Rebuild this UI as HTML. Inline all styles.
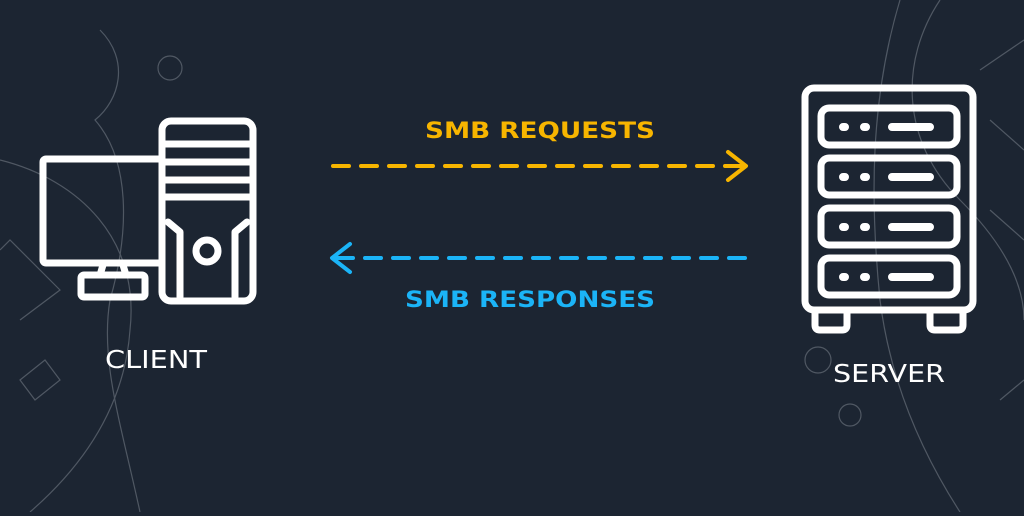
<!DOCTYPE html>
<html><head><style>
body{margin:0;width:1024px;height:512px;background:#1c2532;overflow:hidden;font-family:"DejaVu Sans",sans-serif}
</style></head><body>
<svg width="1024" height="512" viewBox="0 0 1024 512" xmlns="http://www.w3.org/2000/svg">
<rect width="1024" height="512" fill="#1c2532"/>
<g fill="none" stroke="#5d6570" stroke-width="1.2" opacity="0.8">
<path d="M0 160 C80 180 140 240 130 330 C125 400 90 460 30 512"/>
<path d="M100 30 C130 60 120 100 95 120 C130 160 130 230 110 300 C100 360 120 420 140 512"/>
<circle cx="170" cy="68" r="12"/><circle cx="175" cy="178" r="10"/>
<path d="M0 250 L10 240 L60 290 L20 320"/>
<path d="M20 380 L45 360 L60 380 L35 400 Z"/>
<path d="M940 0 C900 60 900 140 960 200 C1000 240 1024 280 1024 320"/>
<path d="M900 0 C870 100 870 200 880 300 C890 380 920 450 960 512"/>
<path d="M990 120 L1024 150 M990 210 L1024 240 M1000 400 L1024 380"/>
<circle cx="818" cy="360" r="13"/><circle cx="850" cy="415" r="11"/>
<path d="M980 70 L1024 40"/>
</g>
<g fill="none" stroke="#fff" stroke-width="7" stroke-linejoin="round" stroke-linecap="round">
<rect x="43" y="159" width="120" height="104" rx="3"/>
<rect x="81" y="275" width="64" height="22" rx="3"/>
<path d="M103 265 L100 275 M123 265 L126 275"/>
<rect x="162" y="121" width="91" height="180" rx="9" fill="#1c2532"/>
<path d="M165 144 H250 M165 162 H250 M165 180 H250 M165 197 H250"/>
<path d="M168 222 L180 232 V297 M247 222 L235 232 V297"/>
<circle cx="207" cy="251" r="11"/>
<rect x="805" y="88" width="168" height="222" rx="9"/>
<path d="M815 310 V325 Q815 330 820 330 H842 Q847 330 847 325 V310 M930 310 V325 Q930 330 935 330 H958 Q963 330 963 325 V310"/>
<rect x="821" y="108" width="136" height="37" rx="8"/>
<rect x="821" y="158" width="136" height="37" rx="8"/>
<rect x="821" y="208" width="136" height="37" rx="8"/>
<rect x="821" y="258" width="136" height="37" rx="8"/>
<g stroke-width="8">
<path d="M843 127h2M864 127h2M892 127h38"/>
<path d="M843 177h2M864 177h2M892 177h38"/>
<path d="M843 227h2M864 227h2M892 227h38"/>
<path d="M843 277h2M864 277h2M892 277h38"/>
</g>
</g>
<g fill="none" stroke-width="4" stroke-linecap="round" stroke-linejoin="round">
<path d="M333 166 H745" stroke="#f7b500" stroke-dasharray="16 12"/>
<path d="M728 152 L746 166 L728 180" stroke="#f7b500"/>
<path d="M745 258 H333" stroke="#1bb4f7" stroke-dasharray="16 12"/>
<path d="M350 244 L332 258 L350 272" stroke="#1bb4f7"/>
</g>
<text x="425" y="138" fill="#f7b500" font-size="22" font-weight="bold" textLength="230" lengthAdjust="spacingAndGlyphs">SMB REQUESTS</text>
<text x="405" y="307" fill="#1bb4f7" font-size="22" font-weight="bold" textLength="250" lengthAdjust="spacingAndGlyphs">SMB RESPONSES</text>
<text x="105" y="368" fill="#fff" font-size="25" textLength="102" lengthAdjust="spacingAndGlyphs">CLIENT</text>
<text x="833" y="382" fill="#fff" font-size="25" textLength="112" lengthAdjust="spacingAndGlyphs">SERVER</text>
</svg>
</body></html>
